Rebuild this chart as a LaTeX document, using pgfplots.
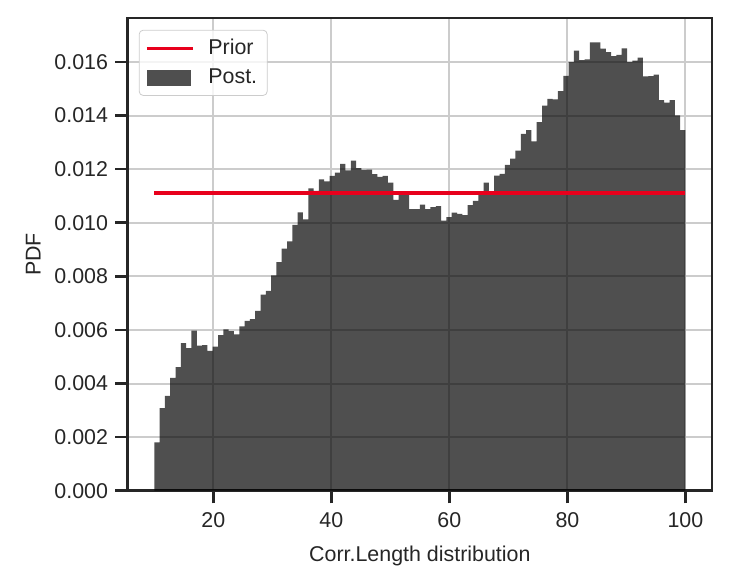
\documentclass[border=0pt]{standalone}
\usepackage{fontspec}
\setmainfont{Liberation Sans}
\usepackage{pgfplots}
\usepackage{pgfplotstable}
\pgfplotsset{compat=1.18}

\definecolor{txt}{HTML}{262626}
\definecolor{gridc}{HTML}{CCCCCC}
\definecolor{prior}{HTML}{E8001C}

% posterior histogram: left bin edge, density (last row closes the interval)
\pgfplotstableread{
x y
10 0.00180
10.9 0.00308
11.8 0.00354
12.7 0.00421
13.6 0.00461
14.5 0.00551
15.4 0.00532
16.3 0.00597
17.2 0.00541
18.1 0.00543
19 0.00522
19.9 0.00538
20.8 0.00581
21.7 0.00602
22.6 0.00596
23.5 0.00583
24.4 0.00613
25.3 0.00634
26.2 0.00640
27.1 0.00671
28 0.00732
28.9 0.00746
29.8 0.00804
30.7 0.00853
31.6 0.00903
32.5 0.00930
33.4 0.00992
34.3 0.01039
35.2 0.01013
36.1 0.01128
37 0.01119
37.9 0.01162
38.8 0.01154
39.7 0.01175
40.6 0.01187
41.5 0.01220
42.4 0.01195
43.3 0.01232
44.2 0.01204
45.1 0.01197
46 0.01198
46.9 0.01181
47.8 0.01171
48.7 0.01175
49.6 0.01150
50.5 0.01085
51.4 0.01103
52.3 0.01103
53.2 0.01051
54.1 0.01051
55 0.01068
55.9 0.01051
56.8 0.01058
57.7 0.01062
58.6 0.01008
59.5 0.01021
60.4 0.01038
61.3 0.01033
62.2 0.01028
63.1 0.01066
64 0.01082
64.9 0.01104
65.8 0.01150
66.7 0.01116
67.6 0.01176
68.5 0.01182
69.4 0.01216
70.3 0.01239
71.2 0.01269
72.1 0.01332
73 0.01346
73.9 0.01304
74.8 0.01375
75.7 0.01437
76.6 0.01462
77.5 0.01460
78.4 0.01491
79.3 0.01548
80.2 0.01599
81.1 0.01642
82 0.01607
82.9 0.01610
83.8 0.01673
84.7 0.01673
85.6 0.01650
86.5 0.01637
87.4 0.01622
88.3 0.01626
89.2 0.01651
90.1 0.01599
91 0.01605
91.9 0.01616
92.8 0.01546
93.7 0.01547
94.6 0.01553
95.5 0.01458
96.4 0.01448
97.3 0.01458
98.2 0.01401
99.1 0.01346
100 0.01346
}\posterior

\begin{document}
\begin{tikzpicture}
\begin{axis}[
    name=ax,
    scale only axis,
    width=292.15pt, height=236.35pt,
    xmin=5.5, xmax=104.5,
    ymin=0, ymax=0.01764,
    xtick={20,40,60,80,100},
    ytick={0,0.002,0.004,0.006,0.008,0.010,0.012,0.014,0.016},
    scaled y ticks=false,
    yticklabel style={/pgf/number format/.cd, fixed, fixed zerofill, precision=3},
    xticklabel style={yshift=-1pt},
    /pgf/number format/assume math mode=true,
    font=\fontsize{10.7}{12.8}\selectfont,
    every tick label/.append style={text=txt},
    grid=major,
    major grid style={gridc, line width=1pt},
    axis line style={txt, line width=1.25pt},
    tick style={txt, line width=1.25pt},
    major tick length=6.3pt,
    tick pos=left, tick align=outside,
    xlabel={Corr.Length distribution},
    ylabel={PDF},
    label style={text=txt},
    xlabel style={yshift=-2.5pt},
    legend style={at={(0.019,0.975)}, anchor=north west,
        draw=gridc, rounded corners=2pt, fill=white, fill opacity=0.8,
        text opacity=1, draw opacity=1,
        inner xsep=3pt, inner ysep=2.5pt, row sep=1.5pt, column sep=5pt,
        nodes={inner sep=2pt, text=txt}, font=\fontsize{10.7}{12.8}\selectfont},
    legend cell align=left,
  ]
  \addplot[ybar interval, fill=black, fill opacity=0.69, draw=none, forget plot]
    table[x=x, y=y] {\posterior};
  \addplot[prior, line width=1.6pt,
    legend image code/.code={\draw[prior, line width=1.6pt, sharp corners] (0pt,0pt) -- (23pt,0pt);}]
    coordinates {(10,0.011111) (100,0.011111)};
  \addlegendentry{Prior}
  \addlegendimage{legend image code/.code={\fill[black, fill opacity=0.69, draw=none, sharp corners] (0pt,-4pt) rectangle (22pt,4pt);}}
  \addlegendentry{Post.}
\end{axis}
\path ([xshift=-63.85pt,yshift=-47.15pt]ax.south west) rectangle ([xshift=10pt,yshift=9pt]ax.north east);
\end{tikzpicture}
\end{document}
